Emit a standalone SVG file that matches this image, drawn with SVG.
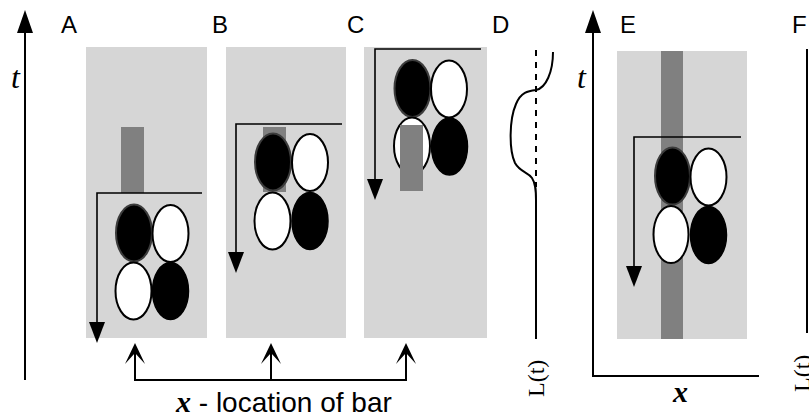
<svg xmlns="http://www.w3.org/2000/svg" width="809" height="417" viewBox="0 0 809 417">
  <defs>
    <style>
      .lbl { font-family: "Liberation Sans", Arial, sans-serif; font-size: 24px; fill: #000; }
      .tvar { font-family: "Liberation Serif", "Times New Roman", serif; font-style: italic; font-size: 32px; fill: #000; }
      .xvar { font-family: "Liberation Serif", "Times New Roman", serif; font-style: italic; font-weight: bold; font-size: 30px; fill: #000; }
      .lt { font-family: "Liberation Serif", "Times New Roman", serif; font-size: 24px; fill: #000; }
      .panel { fill: #d6d6d6; }
      .bar { fill: #808080; }
      .ln { fill: none; stroke: #000; stroke-width: 2; }
      .frame { fill: none; stroke: #000; stroke-width: 1.6; }
      .blk { fill: #000; stroke: #3c3c3c; stroke-width: 2; }
      .blk2 { fill: #000; stroke: #000; stroke-width: 1.5; }
      .wht { fill: #fff; stroke: #000; stroke-width: 2; }
    </style>
    <!-- solid triangular head pointing down, tip at origin -->
    <path id="headDown" d="M0,0 L-8,-21 L8,-21 Z" fill="#000"/>
    <!-- solid triangular head pointing up, tip at origin -->
    <path id="headUp" d="M0,0 L-8,23 L8,23 Z" fill="#000"/>
    <!-- notched head pointing up, tip at origin -->
    <path id="headNotch" d="M0,0 L-10,21 L0,10 L10,21 Z" fill="#000"/>
  </defs>

  <rect width="809" height="417" fill="#fff"/>

  <!-- time axis, left -->
  <g id="time-axis">
    <line class="ln" x1="25" y1="30" x2="25" y2="380"/>
    <use href="#headUp" x="25" y="10"/>
    <text class="tvar" x="11" y="88">t</text>
  </g>

  <!-- panel A -->
  <g id="panel-A">
    <text class="lbl" x="61" y="33">A</text>
    <rect class="panel" x="86" y="47" width="121" height="291"/>
    <rect class="bar" x="121" y="127" width="23" height="66"/>
    <polyline class="frame" points="202,193 97,193 97,325"/>
    <use href="#headDown" x="97" y="343"/>
    <ellipse class="blk" cx="134" cy="233" rx="18" ry="28.5"/>
    <ellipse class="wht" cx="170.5" cy="233.5" rx="18" ry="28.5"/>
    <ellipse class="wht" cx="133.5" cy="291" rx="18" ry="28.5"/>
    <ellipse class="blk2" cx="170.5" cy="291" rx="18" ry="28.5"/>
  </g>

  <!-- panel B -->
  <g id="panel-B">
    <text class="lbl" x="212" y="33">B</text>
    <rect class="panel" x="226" y="47" width="120" height="291"/>
    <rect class="bar" x="263" y="127" width="23" height="65"/>
    <polyline class="frame" points="342,124 236,124 236,255"/>
    <use href="#headDown" x="236" y="273"/>
    <ellipse class="blk" cx="273" cy="162" rx="18" ry="28.5"/>
    <ellipse class="wht" cx="310" cy="162.5" rx="18" ry="28.5"/>
    <ellipse class="wht" cx="272.5" cy="221" rx="18" ry="28.5"/>
    <ellipse class="blk2" cx="310" cy="221" rx="18" ry="28.5"/>
  </g>

  <!-- panel C -->
  <g id="panel-C">
    <text class="lbl" x="347" y="33">C</text>
    <rect class="panel" x="364" y="47" width="123" height="291"/>
    <polyline class="frame" points="481,49 375,49 375,182"/>
    <use href="#headDown" x="375" y="200"/>
    <ellipse class="blk" cx="412.5" cy="88.5" rx="18" ry="28.5"/>
    <ellipse class="wht" cx="449" cy="89" rx="18" ry="28.5"/>
    <ellipse class="wht" cx="412" cy="146" rx="18" ry="28.5"/>
    <ellipse class="blk2" cx="449.5" cy="146.5" rx="18" ry="28.5"/>
    <rect class="bar" x="400" y="125" width="23" height="66"/>
  </g>

  <!-- panel D: response trace -->
  <g id="panel-D">
    <text class="lbl" x="492" y="33">D</text>
    <line x1="536" y1="50" x2="536" y2="187" stroke="#000" stroke-width="2" stroke-dasharray="6,6"/>
    <path class="ln" d="M553,52 C553,72 546,88 536,90 C528,91 521,92 516,104 C509,120 509,150 515,163 C520,172 528,172 532,178 C536,184 536,192 536,200 L536,339"/>
    <text class="lt" transform="translate(544,397) rotate(-90)">L(t)</text>
  </g>

  <!-- panel E -->
  <g id="panel-E">
    <text class="lbl" x="620" y="33">E</text>
    <polyline class="ln" points="593,30 593,376 759,376"/>
    <use href="#headUp" x="593" y="10"/>
    <text class="tvar" x="577" y="88">t</text>
    <rect class="panel" x="617" y="51" width="130" height="288"/>
    <rect class="bar" x="661" y="51" width="22" height="288"/>
    <polyline class="frame" points="741,137 634,137 634,269"/>
    <use href="#headDown" x="634" y="287"/>
    <ellipse class="blk" cx="672.5" cy="176" rx="17.5" ry="28.5"/>
    <ellipse class="wht" cx="708.5" cy="177" rx="18" ry="28.5"/>
    <ellipse class="wht" cx="671" cy="234.5" rx="17.5" ry="28.5"/>
    <ellipse class="blk2" cx="708.5" cy="235" rx="18" ry="28.5"/>
    <text class="xvar" x="673" y="402">x</text>
  </g>

  <!-- panel F -->
  <g id="panel-F">
    <text class="lbl" x="792" y="33">F</text>
    <line class="ln" x1="807" y1="49" x2="807" y2="333"/>
    <text class="lt" transform="translate(810,392) rotate(-90)">L(t)</text>
  </g>

  <!-- bracket pointing at the bar location in each panel -->
  <g id="connectors">
    <polyline class="ln" points="135,352 135,380 406,380 406,352"/>
    <line class="ln" x1="271" y1="352" x2="271" y2="380"/>
    <use href="#headNotch" x="135" y="343"/>
    <use href="#headNotch" x="271" y="343"/>
    <use href="#headNotch" x="406" y="343"/>
  </g>

  <g id="bar-caption">
    <text x="176" y="412"><tspan class="xvar">x</tspan><tspan font-family="Liberation Sans, Arial, sans-serif" font-size="28"> - location of bar</tspan></text>
  </g>
</svg>
